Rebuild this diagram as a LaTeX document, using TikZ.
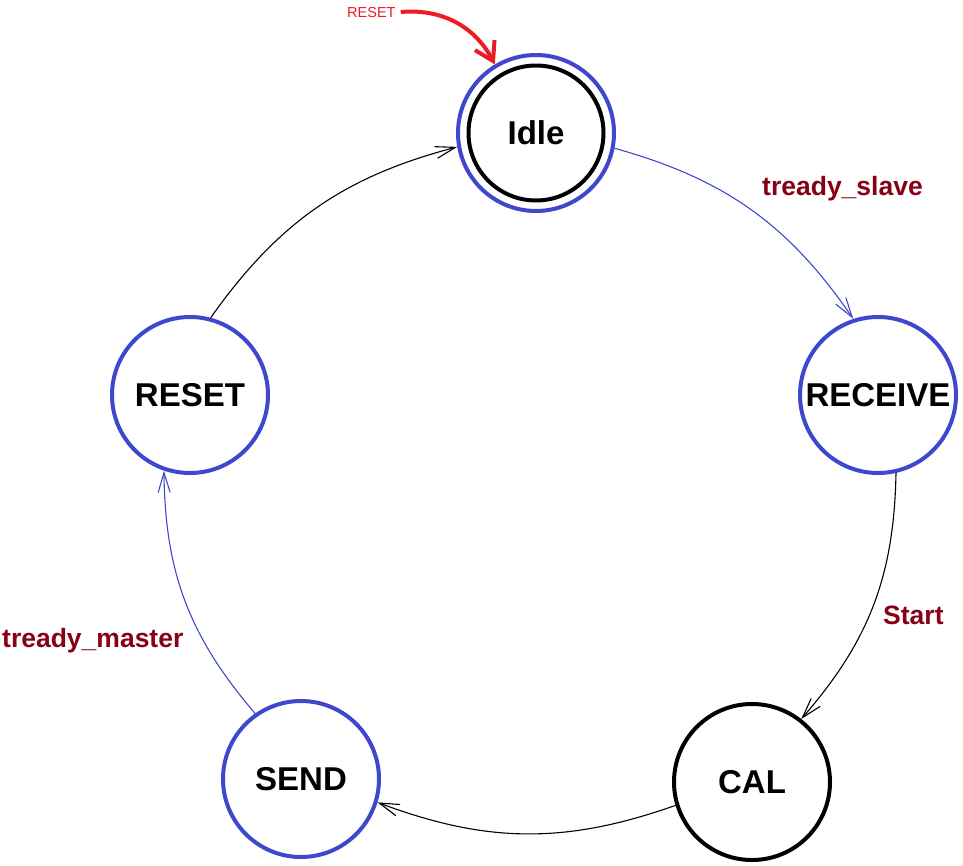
\documentclass[tikz,border=0pt]{standalone}
\usepackage{fontspec}
\setmainfont{Liberation Sans}
\usetikzlibrary{arrows.meta}
\definecolor{stblue}{RGB}{63,72,204}
\definecolor{lblred}{RGB}{136,0,21}
\definecolor{rstred}{RGB}{237,28,36}
\begin{document}
\begin{tikzpicture}[x=1pt,y=-1pt,
  stnode/.style={circle, draw=stblue, line width=4pt, minimum size=156pt,
    inner sep=0pt, font=\fontsize{33}{38}\selectfont\bfseries},
  innerring/.style={circle, draw=black, line width=4pt, minimum size=135pt, inner sep=0pt},
  trans/.style={line width=1.1pt,
    -{Straight Barb[length=20pt,width=12pt,line width=1.1pt]}},
  bluetrans/.style={trans, draw=stblue},
  blacktrans/.style={trans, draw=black},
  cond/.style={text=lblred, inner sep=0pt, anchor=base west,
    font=\fontsize{26.5}{30}\selectfont\bfseries},
  resetarrow/.style={draw=rstred, line width=4pt,
    -{Straight Barb[length=18pt,width=22pt,line width=4pt]}}]
\useasboundingbox (0,0) rectangle (963,865);

% states
\node[innerring] (idlein) at (536,133) {};
\node[stnode] (idle) at (536,133) {Idle};
\node[stnode] (receive) at (878,395) {RECEIVE};
\node[stnode, draw=black] (cal) at (752,782) {CAL};
\node[stnode] (send) at (301,779) {SEND};
\node[stnode] (reset) at (190,395) {RESET};

% transitions around the ring
\draw[bluetrans] (idle.-11) to[bend left=20] (receive.108);
\draw[blacktrans] (receive.-77) to[bend left=20] (cal.52);
\draw[blacktrans] (cal.-163) to[bend left=20] (send.-17);
\draw[bluetrans] (send.125) to[bend left=20] (reset.-109);
\draw[blacktrans] (reset.75) to[bend left=20] (idle.190);

% conditions
\node[cond] (c1) at (762,195) {tready\_slave};
\node[cond] (c2) at (883,624) {Start};
\node[cond] (c3) at (2,647) {tready\_master};

% reset entry
\node[text=rstred, inner sep=0pt, anchor=base west,
  font=\fontsize{14.5}{16}\selectfont] (rstlbl) at (347,17) {RESET};
\draw[resetarrow] ([xshift=5pt]rstlbl.east) .. controls (448,8) and (478,32) .. (idle.121);
\end{tikzpicture}
\end{document}
